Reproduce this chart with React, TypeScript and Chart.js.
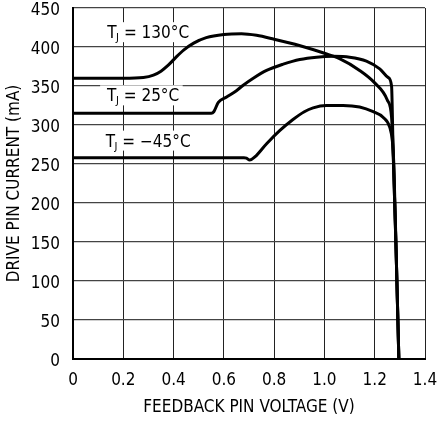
import React, { useEffect, useRef } from "react";
import { Chart, registerables } from "chart.js";

Chart.register(...registerables);

const FONT = "'Liberation Sans Narrow', 'DejaVu Sans Condensed', 'Liberation Sans', sans-serif";

const xTicks = [0, 0.2, 0.4, 0.6, 0.8, 1.0, 1.2, 1.4];
const yTicks = [0, 50, 100, 150, 200, 250, 300, 350, 400, 450];

const v130 = [0, 0.1, 0.2, 0.28, 0.32, 0.35, 0.38, 0.41, 0.44, 0.48, 0.53, 0.6, 0.67, 0.73, 0.8, 0.9, 1.0, 1.06, 1.14, 1.2, 1.25, 1.267, 1.273, 1.285, 1.296];
const i130 = [360, 360, 360, 361, 364, 369, 377, 387, 396, 405, 412, 416, 417, 415, 410, 402, 392, 385, 370, 354, 332, 310, 270, 140, 0];

const v25 = [0, 0.2, 0.4, 0.55, 0.56, 0.578, 0.611, 0.65, 0.677, 0.717, 0.77, 0.836, 0.902, 0.969, 1.035, 1.1, 1.167, 1.22, 1.253, 1.267, 1.273, 1.285, 1.296];
const i25 = [315, 315, 315, 315, 317, 329, 336, 344, 351, 360, 370, 378, 384, 387, 388, 387, 382, 372, 361, 350, 270, 140, 0];

const vm45 = [0, 0.3, 0.6, 0.68, 0.69, 0.703, 0.723, 0.77, 0.823, 0.875, 0.92, 0.955, 1.008, 1.074, 1.14, 1.194, 1.233, 1.26, 1.27, 1.276, 1.285, 1.296];
const im45 = [258, 258, 258, 258, 257.5, 255, 259, 276, 293, 307, 317, 322, 325, 325, 323, 317, 310, 297, 280, 250, 140, 0];

const labelTemps = ["130°C", "25°C", "\u221245°C"];
const labelAnchors = [
  { x: 0.30, y: 419 },
  { x: 0.28, y: 338 },
  { x: 0.30, y: 280 },
];

const toPts = (xs: number[], ys: number[]) => xs.map((x, i) => ({ x, y: ys[i] }));

const labelPlugin = {
  id: "tjLabels",
  beforeDatasetsDraw(chart: any) {
    const { ctx, scales } = chart;
    ctx.save();
    labelAnchors.forEach((a, i) => {
      const cx = scales.x.getPixelForValue(a.x);
      const cy = scales.y.getPixelForValue(a.y);
      const big = `17px ${FONT}`;
      const small = `11px ${FONT}`;
      ctx.font = big;
      const wT = ctx.measureText("T").width;
      const rest = " = " + labelTemps[i];
      const wR = ctx.measureText(rest).width;
      ctx.font = small;
      const wJ = ctx.measureText("J").width;
      const total = wT + wJ + wR;
      const x0 = cx - total / 2;
      ctx.fillStyle = "#fff";
      ctx.fillRect(x0 - 7, cy - 10, total + 10, 20);
      ctx.fillStyle = "#000";
      ctx.textBaseline = "alphabetic";
      ctx.textAlign = "left";
      const base = cy + 6;
      ctx.font = big;
      ctx.fillText("T", x0, base);
      ctx.font = small;
      ctx.fillText("J", x0 + wT - 0.5, base + 3);
      ctx.font = big;
      ctx.fillText(rest, x0 + wT + wJ - 0.5, base);
    });
    ctx.restore();
  },
};

export default function App() {
  const ref = useRef<HTMLCanvasElement | null>(null);
  useEffect(() => {
    if (!ref.current) return;
    const ds = (xs: number[], ys: number[]) => ({
      data: toPts(xs, ys),
      borderColor: "#000",
      borderWidth: 3,
      pointRadius: 0,
      fill: false,
      cubicInterpolationMode: "monotone" as const,
    });
    const chart = new Chart(ref.current, {
      type: "line",
      data: {
        datasets: [ds(v130, i130), ds(v25, i25), ds(vm45, im45)],
      },
      options: {
        animation: false,
        responsive: false,
        layout: { padding: { left: 0, top: 8, right: 13, bottom: 0 } },
        plugins: { legend: { display: false }, tooltip: { enabled: false } },
        scales: {
          x: {
            type: "linear",
            min: 0,
            max: 1.4,
            afterBuildTicks: (s: any) => {
              s.ticks = xTicks.map((v) => ({ value: v }));
            },
            afterFit: (s: any) => {
              s.height = 62;
              s.paddingLeft = 0;
              s.paddingRight = 0;
            },
            grid: { color: "#222", lineWidth: 1, drawTicks: false },
            border: { color: "#000", width: 2 },
            ticks: {
              color: "#000",
              padding: 11,
              maxRotation: 0,
              autoSkip: false,
              font: { family: FONT, size: 17 },
              callback: (v: any) => (v === 0 ? "0" : Number(v).toFixed(1)),
            },
            title: {
              display: true,
              text: "FEEDBACK PIN VOLTAGE (V)",
              color: "#000",
              font: { family: FONT, size: 17 },
              padding: { top: 0, bottom: 3 },
            },
          },
          y: {
            type: "linear",
            min: 0,
            max: 450,
            afterBuildTicks: (s: any) => {
              s.ticks = yTicks.map((v) => ({ value: v }));
            },
            afterFit: (s: any) => {
              s.width = 73;
              s.paddingTop = 0;
              s.paddingBottom = 0;
            },
            grid: { color: "#444", lineWidth: 1.3, drawTicks: false },
            border: { color: "#000", width: 2 },
            ticks: {
              color: "#000",
              padding: 13,
              labelOffset: 3,
              autoSkip: false,
              font: { family: FONT, size: 17 },
              callback: (v: any) => String(v),
            },
            title: {
              display: true,
              text: "DRIVE PIN CURRENT (mA)",
              color: "#000",
              font: { family: FONT, size: 17 },
              padding: { top: 4, bottom: 0 },
            },
          },
        },
      },
      plugins: [labelPlugin],
    });
    return () => chart.destroy();
  }, []);
  return (
    <div style={{ position: "absolute", left: 0, top: 0, width: 438, height: 421, background: "#fff" }}>
      <canvas ref={ref} width={438} height={421} style={{ width: 438, height: 421 }} />
    </div>
  );
}
